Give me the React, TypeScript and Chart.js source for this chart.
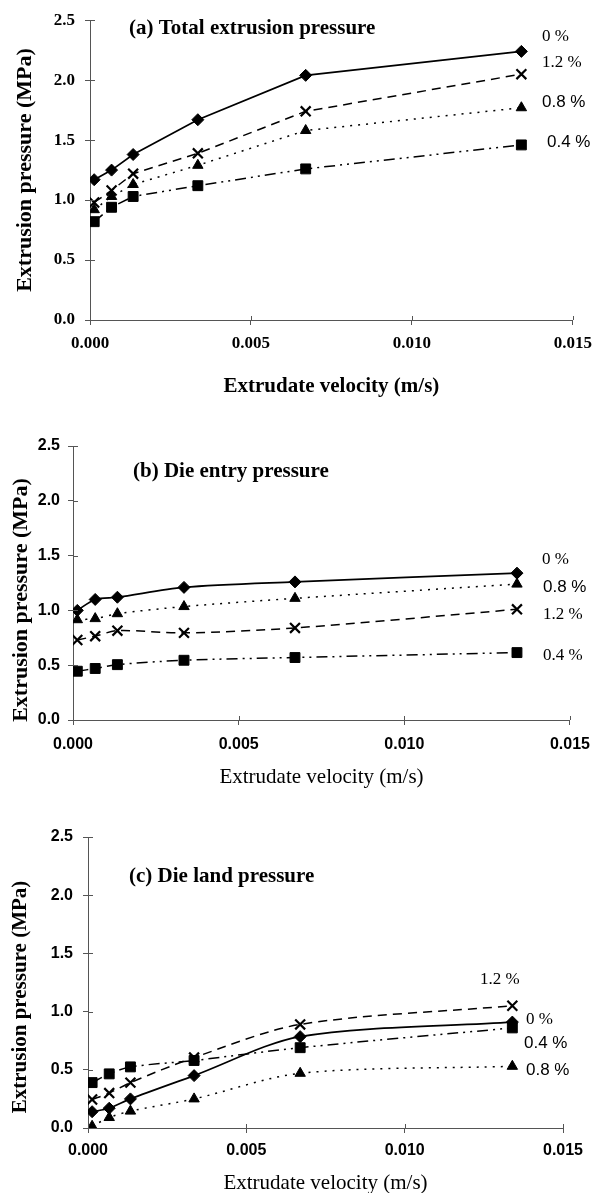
import React, { useEffect, useRef } from 'react';
import { Chart, registerables } from 'chart.js';

Chart.register(...registerables);

// ---------- data ----------
const velocity = [0.00013, 0.00067, 0.00134, 0.00335, 0.0067, 0.0134];
const xTickValues = [0, 0.005, 0.01, 0.015];
const yTickValues = [0, 0.5, 1, 1.5, 2, 2.5];

// (a) total extrusion pressure
const totalP0 = [1.17, 1.25, 1.38, 1.67, 2.04, 2.24];
const totalP12 = [0.98, 1.08, 1.22, 1.39, 1.74, 2.05];
const totalP08 = [0.92, 1.03, 1.13, 1.29, 1.58, 1.77];
const totalP04 = [0.82, 0.94, 1.03, 1.12, 1.26, 1.46];

// (b) die entry pressure
const entryP0 = [1.0, 1.1, 1.12, 1.21, 1.26, 1.34];
const entryP08 = [0.915, 0.925, 0.97, 1.035, 1.11, 1.24];
const entryP12 = [0.73, 0.765, 0.815, 0.795, 0.84, 1.01];
const entryP04 = [0.445, 0.47, 0.505, 0.545, 0.57, 0.615];

// (c) die land pressure
const landP0 = [0.14, 0.17, 0.25, 0.45, 0.785, 0.91];
const landP12 = [0.245, 0.3, 0.39, 0.605, 0.89, 1.05];
const landP04 = [0.39, 0.465, 0.525, 0.58, 0.69, 0.86];
const landP08 = [0.015, 0.09, 0.145, 0.25, 0.47, 0.53];

const seriesNames = ['0 %', '1.2 %', '0.8 %', '0.4 %'];

// ---------- styles ----------
const SERIF = "'Liberation Serif', 'Times New Roman', serif";
const SANS = "'Liberation Sans', Arial, sans-serif";
const AXIS_COLOR = '#555';

const seriesStyle: Record<string, any> = {
  '0 %': { dash: [], point: 'rectRot', radius: 6, pw: 1 },
  '1.2 %': { dash: [9, 6], point: 'crossRot', radius: 7, pw: 2.2 },
  '0.8 %': { dash: [2, 6], point: 'triangle', radius: 6, pw: 1 },
  '0.4 %': { dash: [11, 5, 2, 5, 2, 5], point: 'rect', radius: 7, pw: 1 },
};

type Panel = {
  top: number;
  height: number;
  left: number;
  right: number;
  areaTop: number;
  areaBottom: number;
  series: number[][];
  tension: number;
  tickFont: any;
  tickPadX: number;
  tickPadY: number;
  yTitleFont: string;
  yTitlePos: [number, number];
  xTitleFont: any;
  xTitlePad: number;
  title: string;
  titleFont: string;
  titlePos: [number, number];
  labels: { text: string; x: number; y: number; font: string }[];
};

const panels: Panel[] = [
  {
    top: 0,
    height: 400,
    left: 90,
    right: 582,
    areaTop: 17,
    areaBottom: 320,
    series: [totalP0, totalP12, totalP08, totalP04],
    tension: 0,
    tickFont: { family: SERIF, size: 17, weight: 'bold' },
    tickPadX: 8,
    tickPadY: 10,
    yTitleFont: `bold 22px ${SERIF}`,
    yTitlePos: [25, 170],
    xTitleFont: { family: SERIF, size: 21, weight: 'bold' },
    xTitlePad: 1,
    title: '(a) Total extrusion pressure',
    titleFont: `bold 21px ${SERIF}`,
    titlePos: [129, 29],
    labels: [
      { text: '0 %', x: 542, y: 37, font: `17px ${SERIF}` },
      { text: '1.2 %', x: 542, y: 63, font: `17px ${SERIF}` },
      { text: '0.8 %', x: 542, y: 102, font: `17px ${SANS}` },
      { text: '0.4 %', x: 547, y: 142, font: `17px ${SANS}` },
    ],
  },
  {
    top: 400,
    height: 395,
    left: 73,
    right: 579,
    areaTop: 46,
    areaBottom: 320,
    series: [entryP0, entryP12, entryP08, entryP04],
    tension: 0.3,
    tickFont: { family: SANS, size: 16, weight: 'bold' },
    tickPadX: 10,
    tickPadY: 8,
    yTitleFont: `bold 22px ${SERIF}`,
    yTitlePos: [21, 200],
    xTitleFont: { family: SERIF, size: 21, weight: 'normal' },
    xTitlePad: 5,
    title: '(b) Die entry pressure',
    titleFont: `bold 21px ${SERIF}`,
    titlePos: [133, 72],
    labels: [
      { text: '0 %', x: 542, y: 160, font: `17px ${SERIF}` },
      { text: '0.8 %', x: 543, y: 187, font: `17px ${SANS}` },
      { text: '1.2 %', x: 543, y: 215, font: `17px ${SERIF}` },
      { text: '0.4 %', x: 543, y: 256, font: `17px ${SERIF}` },
    ],
  },
  {
    top: 795,
    height: 398,
    left: 88,
    right: 563,
    areaTop: 42,
    areaBottom: 333,
    series: [landP0, landP12, landP08, landP04],
    tension: 0.3,
    tickFont: { family: SANS, size: 16, weight: 'bold' },
    tickPadX: 8,
    tickPadY: 10,
    yTitleFont: `bold 21px ${SERIF}`,
    yTitlePos: [21, 202],
    xTitleFont: { family: SERIF, size: 21, weight: 'normal' },
    xTitlePad: -3,
    title: '(c) Die land pressure',
    titleFont: `bold 21px ${SERIF}`,
    titlePos: [129, 82],
    labels: [
      { text: '1.2 %', x: 480, y: 185, font: `17px ${SERIF}` },
      { text: '0 %', x: 526, y: 225, font: `17px ${SERIF}` },
      { text: '0.4 %', x: 524, y: 248, font: `17px ${SANS}` },
      { text: '0.8 %', x: 526, y: 275, font: `17px ${SANS}` },
    ],
  },
];

const innerTicks = {
  id: 'innerTicks',
  afterDatasetsDraw(chart: any) {
    const { ctx, chartArea, scales } = chart;
    ctx.save();
    ctx.strokeStyle = AXIS_COLOR;
    ctx.lineWidth = 1;
    ctx.beginPath();
    scales.x.ticks.forEach((t: any) => {
      const px = Math.round(scales.x.getPixelForValue(t.value)) + 0.5;
      ctx.moveTo(px, chartArea.bottom);
      ctx.lineTo(px, chartArea.bottom - 4);
    });
    scales.y.ticks.forEach((t: any) => {
      const py = Math.round(scales.y.getPixelForValue(t.value)) + 0.5;
      ctx.moveTo(chartArea.left, py);
      ctx.lineTo(chartArea.left + 5, py);
    });
    ctx.stroke();
    ctx.restore();
  },
};

const panelText = {
  id: 'panelText',
  afterDraw(chart: any, _args: any, opts: any) {
    const { ctx } = chart;
    ctx.save();
    ctx.fillStyle = '#000';
    ctx.textBaseline = 'middle';
    ctx.textAlign = 'left';
    ctx.font = opts.titleFont;
    ctx.fillText(opts.title, opts.titlePos[0], opts.titlePos[1]);
    (opts.labels || []).forEach((l: any) => {
      ctx.font = l.font;
      ctx.fillText(l.text, l.x, l.y);
    });
    // rotated y-axis title
    ctx.translate(opts.yTitlePos[0], opts.yTitlePos[1]);
    ctx.rotate(-Math.PI / 2);
    ctx.textAlign = 'center';
    ctx.font = opts.yTitleFont;
    ctx.fillText(opts.yTitle, 0, 0);
    ctx.restore();
  },
};

function PanelChart({ p }: { p: Panel }) {
  const ref = useRef<HTMLCanvasElement>(null);
  useEffect(() => {
    if (!ref.current) return;
    const datasets = p.series.map((vals, i) => {
      const name = seriesNames[i];
      const st = seriesStyle[name];
      return {
        label: name,
        data: velocity.map((v, j) => ({ x: v, y: vals[j] })),
        borderColor: '#000',
        backgroundColor: '#000',
        borderWidth: name === '0 %' ? 1.7 : 1.5,
        borderDash: st.dash,
        pointStyle: st.point,
        pointRadius: st.radius,
        pointBorderWidth: st.pw,
        pointBorderColor: '#000',
        pointBackgroundColor: '#000',
        tension: p.tension,
        fill: false,
      };
    });
    const chart = new Chart(ref.current, {
      type: 'line',
      data: { datasets },
      plugins: [innerTicks, panelText],
      options: {
        animation: false,
        responsive: false,
        devicePixelRatio: 1,
        layout: {
          autoPadding: false,
          padding: { left: 0, top: p.areaTop, right: 600 - p.right, bottom: 0 },
        },
        plugins: {
          legend: { display: false },
          tooltip: { enabled: false },
          panelText: {
            title: p.title,
            titleFont: p.titleFont,
            titlePos: p.titlePos,
            labels: p.labels,
            yTitle: 'Extrusion pressure (MPa)',
            yTitleFont: p.yTitleFont,
            yTitlePos: p.yTitlePos,
          },
        } as any,
        scales: {
          x: {
            type: 'linear',
            min: 0,
            max: 0.015,
            afterBuildTicks: (s: any) => {
              s.ticks = xTickValues.map((v) => ({ value: v }));
            },
            afterFit: (s: any) => {
              s.height = p.height - p.areaBottom;
            },
            ticks: {
              color: '#000',
              font: p.tickFont,
              padding: p.tickPadX,
              maxRotation: 0,
              callback: (v: any) => Number(v).toFixed(3),
            },
            grid: {
              drawOnChartArea: false,
              drawTicks: true,
              tickLength: 5,
              color: AXIS_COLOR,
            },
            border: { display: true, color: AXIS_COLOR, width: 1 },
            title: {
              display: true,
              text: 'Extrudate velocity (m/s)',
              color: '#000',
              font: p.xTitleFont,
              padding: { top: 0, bottom: p.xTitlePad },
            },
          },
          y: {
            type: 'linear',
            min: 0,
            max: 2.5,
            afterBuildTicks: (s: any) => {
              s.ticks = yTickValues.map((v) => ({ value: v }));
            },
            afterFit: (s: any) => {
              s.width = p.left;
            },
            ticks: {
              color: '#000',
              font: p.tickFont,
              padding: p.tickPadY,
              callback: (v: any) => Number(v).toFixed(1),
            },
            grid: {
              drawOnChartArea: false,
              drawTicks: true,
              tickLength: 5,
              color: AXIS_COLOR,
            },
            border: { display: true, color: AXIS_COLOR, width: 1 },
            title: { display: false },
          },
        },
      } as any,
    });
    return () => chart.destroy();
  }, [p]);
  return (
    <canvas
      ref={ref}
      width={600}
      height={p.height}
      style={{ position: 'absolute', left: 0, top: p.top, width: 600, height: p.height }}
    />
  );
}

export default function App() {
  return (
    <div
      style={{
        position: 'absolute',
        left: 0,
        top: 0,
        width: 600,
        height: 1193,
        background: '#fff',
        overflow: 'hidden',
      }}
    >
      {panels.map((p, i) => (
        <PanelChart key={i} p={p} />
      ))}
    </div>
  );
}
